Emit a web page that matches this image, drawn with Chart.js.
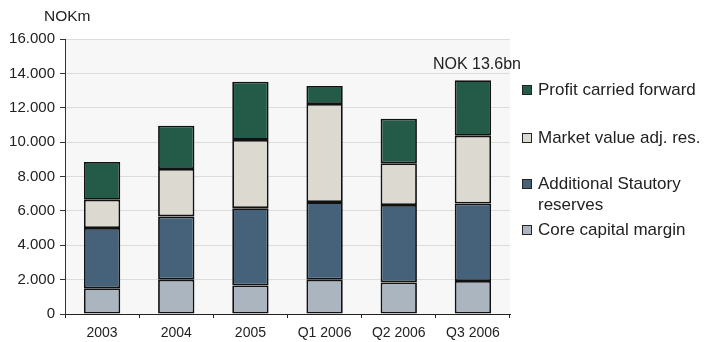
<!DOCTYPE html>
<html>
<head>
<meta charset="utf-8">
<script src="https://cdn.jsdelivr.net/npm/chart.js@4/dist/chart.umd.min.js"></script>
<style>
  html, body { margin: 0; padding: 0; background: #fff; }
  #wrap { width: 710px; height: 342px; position: relative; }
</style>
</head>
<body>
<div id="wrap"><canvas id="capital-canvas"></canvas></div>
<script>
const periods = ['2003', '2004', '2005', 'Q1 2006', 'Q2 2006', 'Q3 2006']

// NOKm, stacked from the bottom up
const coreCapitalMargin = [1500, 2000, 1660, 2000, 1840, 1920]
const additionalStatutory = [3500, 3680, 4500, 4510, 4500, 4510]
const marketValueAdj = [1650, 2760, 3970, 5710, 2430, 3940]
const profitCarried = [2200, 2510, 3390, 1050, 2590, 3230]

const yTicks = [0, 2000, 4000, 6000, 8000, 10000, 12000, 14000, 16000]

const fontFamily = '"Liberation Sans", Arial, sans-serif'

const fmtThousands = v => v === 0 ? '0' : String(v).replace(/\B(?=(\d{3})+(?!\d))/g, '.')

const datasets = [
  { label: 'Core capital margin', legend: ['Core capital margin'], data: coreCapitalMargin, backgroundColor: '#aab5bf' },
  { label: 'Additional Stautory reserves', legend: ['Additional Stautory', 'reserves'], data: additionalStatutory, backgroundColor: '#46627a' },
  { label: 'Market value adj. res.', legend: ['Market value adj. res.'], data: marketValueAdj, backgroundColor: '#dcd9d1' },
  { label: 'Profit carried forward', legend: ['Profit carried forward'], data: profitCarried, backgroundColor: '#245a48' }
].map(ds => Object.assign(ds, {
  borderColor: '#111',
  borderWidth: 1.8,
  borderSkipped: false,
  categoryPercentage: 1,
  barPercentage: 0.49
}))

// grey plot background behind the bars
const plotBackground = {
  id: 'plotBackground',
  beforeDraw(chart) {
    const { ctx, chartArea } = chart
    ctx.save()
    ctx.fillStyle = '#f7f7f7'
    ctx.fillRect(chartArea.left, chartArea.top, chartArea.right - chartArea.left, chartArea.bottom - chartArea.top)
    ctx.restore()
  }
}

// unit caption, total label on the last bar and the legend on the right
const annotations = {
  id: 'annotations',
  afterDraw(chart) {
    const { ctx } = chart
    const x = chart.scales.x
    const y = chart.scales.y
    ctx.save()
    ctx.fillStyle = '#222'
    ctx.textBaseline = 'middle'

    ctx.font = '15.5px ' + fontFamily
    ctx.textAlign = 'left'
    ctx.fillText('NOKm', 44, 17)

    const last = periods.length - 1
    const total = datasets.reduce((sum, ds) => sum + ds.data[last], 0)
    ctx.font = '16px ' + fontFamily
    ctx.textAlign = 'center'
    ctx.fillText('NOK ' + (total / 1000).toFixed(1) + 'bn', x.getPixelForValue(last) + 4, y.getPixelForValue(total) - 16)

    ctx.font = '17px ' + fontFamily
    ctx.textAlign = 'left'
    const rows = [90, 138, 184, 230]
    datasets.slice().reverse().forEach((ds, i) => {
      const cy = rows[i]
      ctx.fillStyle = ds.backgroundColor
      ctx.fillRect(522, cy - 5, 10, 10)
      ctx.strokeStyle = '#222'
      ctx.lineWidth = 1
      ctx.strokeRect(522.5, cy - 4.5, 9, 9)
      ctx.fillStyle = '#222'
      ds.legend.forEach((line, j) => ctx.fillText(line, 538, cy + j * 21))
    })
    ctx.restore()
  }
}

new Chart(document.querySelector('#capital-canvas'), {
  type: 'bar',
  data: { labels: periods, datasets },
  plugins: [plotBackground, annotations],
  options: {
    responsive: true,
    maintainAspectRatio: false,
    animation: false,
    layout: { padding: { top: 39, right: 200, left: 0, bottom: 0 } },
    plugins: {
      legend: { display: false },
      tooltip: { enabled: false }
    },
    scales: {
      x: {
        stacked: true,
        afterFit(scale) { scale.height = 28 },
        border: { color: '#222', width: 1 },
        grid: { offset: true, drawOnChartArea: false, tickLength: 4, tickColor: '#222' },
        ticks: { color: '#222', padding: 7, font: { family: fontFamily, size: 14 } }
      },
      y: {
        stacked: true,
        min: 0,
        max: 16000,
        afterFit(scale) { scale.width = 65 },
        afterBuildTicks(scale) { scale.ticks = yTicks.map(value => ({ value })) },
        border: { color: '#333', width: 1 },
        grid: { color: '#dcdcdc', tickLength: 5, tickColor: '#333' },
        ticks: { color: '#222', padding: 5, font: { family: fontFamily, size: 15 }, callback: v => fmtThousands(v) }
      }
    }
  }
})
</script>
</body>
</html>
